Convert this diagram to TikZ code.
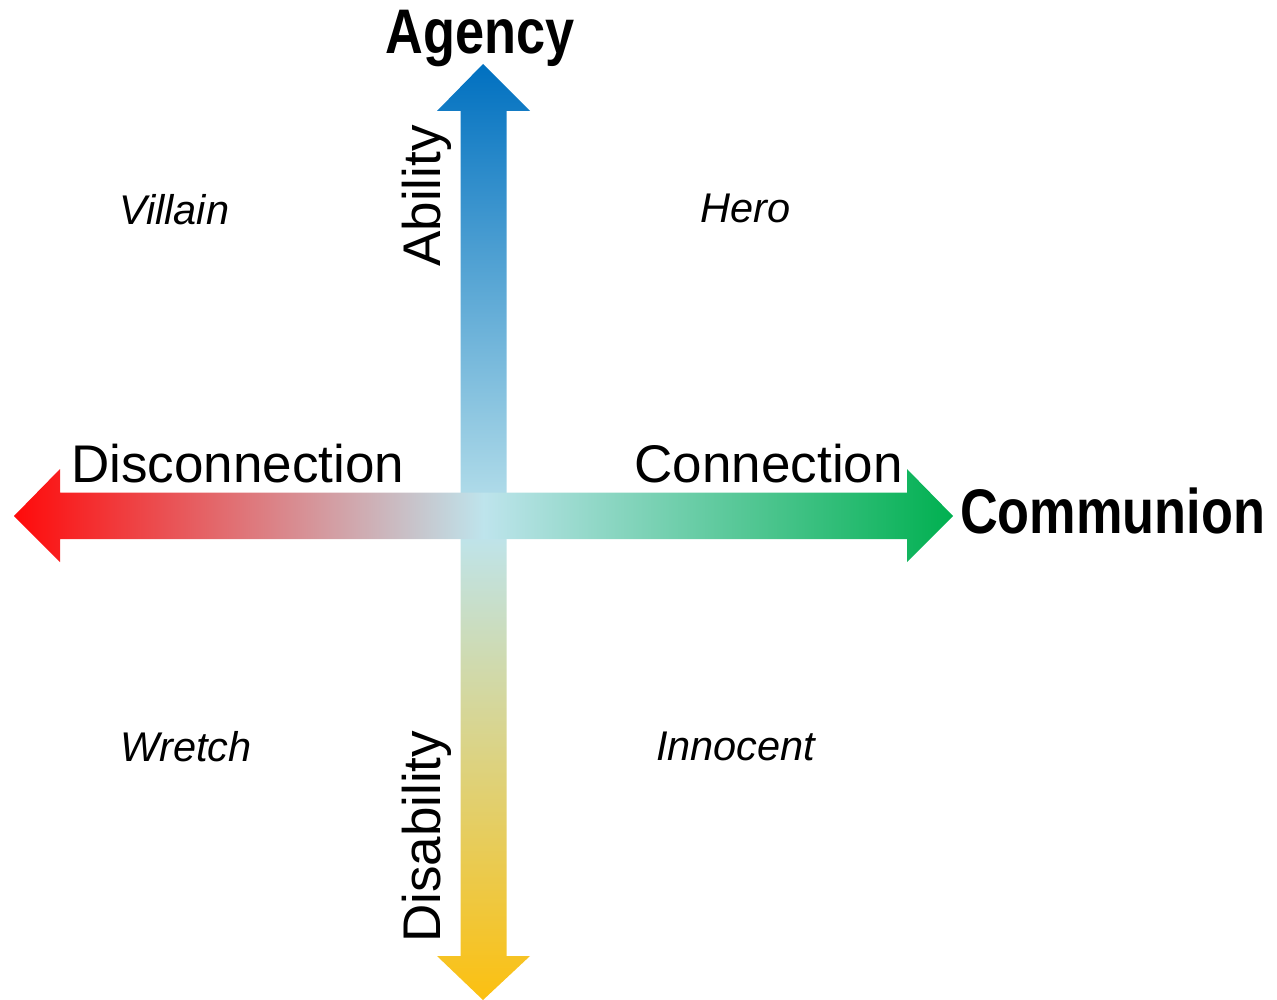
\documentclass[tikz,border=0pt]{standalone}
\usepackage{fontspec}
\setmainfont{Liberation Sans}
\newfontfamily\narrowbold[FakeStretch=0.83]{Liberation Sans Bold}
\begin{document}
\begin{tikzpicture}[x=1pt,y=-1pt,
  lbl/.style={inner sep=0pt, font=\fontsize{53}{60}\selectfont},
  quad/.style={inner sep=0pt, anchor=base west, font=\fontsize{41.5}{48}\selectfont\itshape},
  axis/.style={inner sep=0pt, font=\fontsize{63}{70}\narrowbold}]
\definecolor{cblue}{RGB}{0,112,192}
\definecolor{cmid}{RGB}{190,228,236}
\definecolor{cyel}{RGB}{252,192,16}
\definecolor{cred}{RGB}{255,10,10}
\definecolor{cgreen}{RGB}{0,176,80}
\useasboundingbox (0,0) rectangle (1277,1000);
% vertical arrow
\shade[top color=cblue, bottom color=cyel, middle color=cmid]
  (483,64) -- (530,111) -- (506.5,111) -- (506.5,956) -- (530,956) -- (483,1000)
  -- (437,956) -- (460.5,956) -- (460.5,111) -- (437,111) -- cycle;
% horizontal arrow
\shade[left color=cred, right color=cgreen, middle color=cmid]
  (14,516) -- (60,469) -- (60,492.5) -- (907,492.5) -- (907,469) -- (953,516)
  -- (907,562) -- (907,539) -- (60,539) -- (60,562) -- cycle;
% axis labels
\node[axis, anchor=base] (agency) at (480,54) {Agency};
\node[axis, anchor=base west] (communion) at (960,533) {Communion};
\node[lbl, anchor=base west] (disc) at (71,482) {Disconnection};
\node[lbl, anchor=base east] (conn) at (903,482) {Connection};
\node[lbl, anchor=base west, rotate=90] (abil) at (440,267) {Ability};
\node[lbl, anchor=base west, rotate=90] (disab) at (440,943) {Disability};
% quadrant labels
\node[quad] (villain) at (119,225) {Villain};
\node[quad] (hero) at (700,223) {Hero};
\node[quad] (wretch) at (120,761) {Wretch};
\node[quad] (innocent) at (656,760) {Innocent};
\end{tikzpicture}
\end{document}
